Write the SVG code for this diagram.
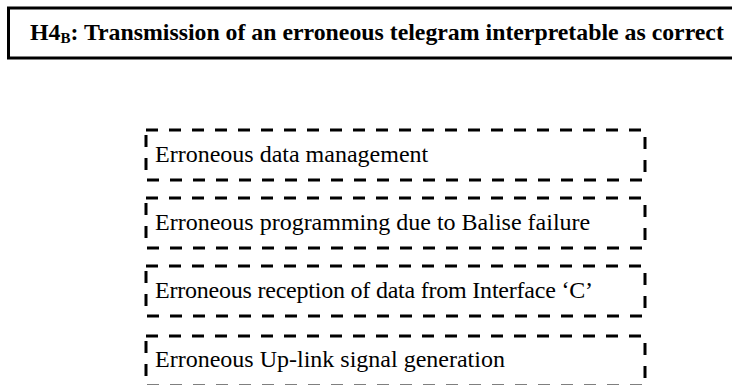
<svg xmlns="http://www.w3.org/2000/svg" width="732" height="385" viewBox="0 0 732 385">
  <style>
    .title { font-family: "Liberation Serif", "Times New Roman", serif; font-weight: bold; font-size: 23.8px; fill: #000; }
    .lbl { font-family: "Liberation Serif", "Times New Roman", serif; font-size: 24px; fill: #000; }
    .tbox { fill: #fff; stroke: #000; stroke-width: 3; }
    .dbox { fill: none; stroke: #000; stroke-width: 3; stroke-dasharray: 12 11; }
  </style>
  <rect width="732" height="385" fill="#fff"/>
  <g id="title">
    <rect class="tbox" x="8.5" y="8" width="740" height="50"/>
    <text class="title" x="30" y="40">H4<tspan font-size="15" dy="3">B</tspan><tspan dy="-3">: Transmission of an erroneous telegram interpretable as correct</tspan></text>
  </g>
  <g id="n1">
    <rect class="dbox" x="146" y="130" width="499" height="50"/>
    <text class="lbl" x="155" y="162">Erroneous data management</text>
  </g>
  <g id="n2">
    <rect class="dbox" x="146" y="198" width="499" height="50"/>
    <text class="lbl" x="155" y="230">Erroneous programming due to Balise failure</text>
  </g>
  <g id="n3">
    <rect class="dbox" x="146" y="266" width="499" height="50"/>
    <text class="lbl" x="155" y="298" textLength="438" lengthAdjust="spacing">Erroneous reception of data from Interface ‘C’</text>
  </g>
  <g id="n4">
    <rect class="dbox" x="146" y="336" width="499" height="50"/>
    <text class="lbl" x="155" y="367">Erroneous Up-link signal generation</text>
  </g>
  <g id="connectors"/>
</svg>
